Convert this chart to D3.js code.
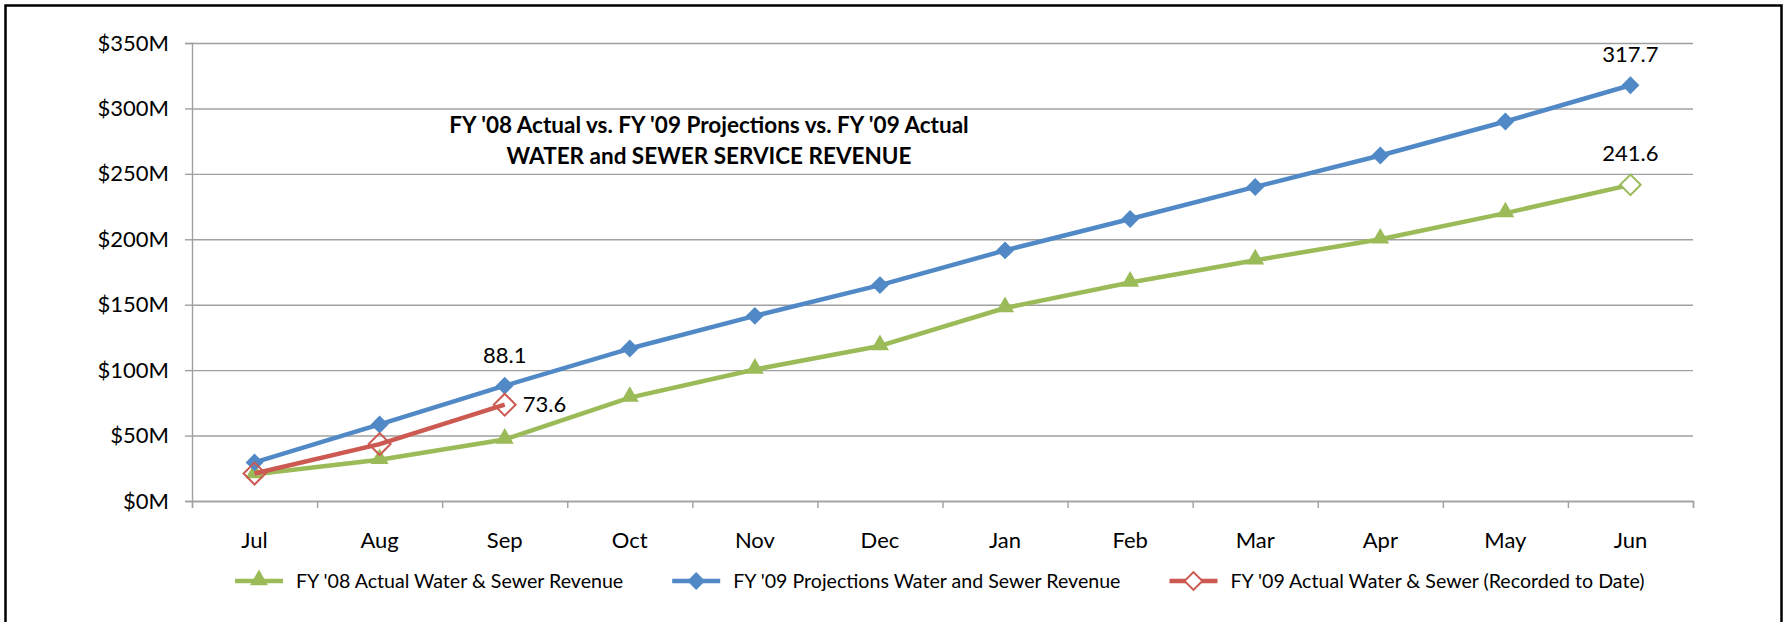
<!DOCTYPE html>
<html>
<head>
<meta charset="utf-8">
<script src="https://cdn.jsdelivr.net/npm/d3@7"></script>
<style>
  body { margin: 0; background: #fff; }
  svg { display: block; font-family: Lato, "Open Sans", sans-serif; }
</style>
</head>
<body>
<svg id="chart"></svg>
<script>
const months = ["Jul", "Aug", "Sep", "Oct", "Nov", "Dec", "Jan", "Feb", "Mar", "Apr", "May", "Jun"];
const fy08Actual = [20.5, 31.5, 47, 79, 100.5, 118.5, 147.5, 167, 184, 200, 220, 241.6];
const fy09Projection = [29.5, 58.5, 88.1, 116.5, 141.5, 165, 191.5, 215.5, 240, 264, 290, 317.7];
const fy09Actual = [21, 43.5, 73.6];
const yTicks = [0, 50, 100, 150, 200, 250, 300, 350];
const titleLines = ["FY '08 Actual vs. FY '09 Projections vs. FY '09 Actual", "WATER and SEWER SERVICE REVENUE"];
const legendNames = ["FY '08 Actual Water & Sewer Revenue", "FY '09 Projections Water and Sewer Revenue", "FY '09 Actual Water & Sewer (Recorded to Date)"];

const width = 1785;
const height = 622;
const margin = { top: 43, right: 92, bottom: 121, left: 192 };
const green = "#9BBB59", blue = "#5089C6", red = "#CC5A52", grid = "#A0A0A0";

const svg = d3.select("#chart").attr("width", width).attr("height", height);

// outer frame (bottom edge is off the picture)
svg.append("rect")
   .attr("x", 5.5).attr("y", 5.5)
   .attr("width", 1776).attr("height", 700)
   .attr("fill", "none").attr("stroke", "#000").attr("stroke-width", 2.5);

const x = d3.scaleBand().domain(months).range([margin.left, width - margin.right]);
const xEdge = d3.scaleLinear().domain([0, months.length]).range([margin.left, width - margin.right]);
const y = d3.scaleLinear().domain([0, 350]).range([height - margin.bottom, margin.top]);
const cx = m => x(m) + x.bandwidth() / 2;

// gridlines
svg.append("g")
   .attr("transform", `translate(${margin.left},0)`)
   .call(d3.axisLeft(y).tickValues(yTicks).tickSize(-(width - margin.right - margin.left)).tickFormat(""))
   .call(g => g.select(".domain").remove())
   .call(g => g.selectAll("line").attr("stroke", grid).attr("stroke-width", 1.4));

// y axis
const yAxis = svg.append("g")
   .attr("transform", `translate(${margin.left},0)`)
   .call(d3.axisLeft(y).tickValues(yTicks).tickSize(7).tickPadding(16).tickFormat(d => `$${d}M`));
yAxis.select(".domain").attr("stroke", grid).attr("stroke-width", 1.4);
yAxis.selectAll("line").attr("stroke", grid).attr("stroke-width", 1.4);
yAxis.selectAll("text").attr("font-size", 22).attr("fill", "#000").style("font-family", "Lato");

// x axis: ticks at category edges, labels at centres
const xAxis = svg.append("g")
   .attr("transform", `translate(0,${y(0)})`)
   .call(d3.axisBottom(xEdge).tickValues(d3.range(months.length + 1)).tickSize(7).tickFormat(""));
xAxis.select(".domain").attr("stroke", grid).attr("stroke-width", 1.4);
xAxis.selectAll("line").attr("stroke", grid).attr("stroke-width", 1.4);

svg.append("g")
   .attr("transform", `translate(0,${y(0)})`)
   .call(d3.axisBottom(x).tickSize(0).tickPadding(31))
   .call(g => g.select(".domain").remove())
   .call(g => g.selectAll("text").attr("font-size", 22).attr("fill", "#000").style("font-family", "Lato"));

// title
svg.selectAll(".title")
   .data(titleLines)
   .enter()
   .append("text")
     .attr("x", 709)
     .attr("y", (d, i) => 125 + i * 31)
     .attr("dy", "0.35em")
     .attr("text-anchor", "middle")
     .attr("font-size", 22.5)
     .attr("font-weight", "bold")
     .text(d => d);

const line = d3.line().x(d => cx(d.m)).y(d => y(d.v));
const toPts = arr => arr.map((v, i) => ({ m: months[i], v }));

// square diamonds (rotated squares, as in the original)
const diamond = d3.symbol().type(d3.symbolSquare);
const triangle = d3.symbol().type(d3.symbolTriangle);

function drawLine(data, color) {
  svg.append("path")
     .datum(data)
     .attr("fill", "none")
     .attr("stroke", color)
     .attr("stroke-width", 4.5)
     .attr("stroke-linejoin", "round")
     .attr("d", line);
}

// FY08 actual
const g08 = toPts(fy08Actual);
drawLine(g08, green);
svg.selectAll(".tri")
   .data(g08.slice(0, -1))
   .enter()
   .append("path")
     .attr("transform", d => `translate(${cx(d.m)},${y(d.v) - 1})`)
     .attr("d", triangle.size(140))
     .attr("fill", green);
svg.append("path")
   .attr("transform", `translate(${cx(g08[11].m)},${y(g08[11].v)}) rotate(45)`)
   .attr("d", diamond.size(210))
   .attr("fill", "#fff").attr("stroke", green).attr("stroke-width", 2);

// FY09 projection
const g09p = toPts(fy09Projection);
drawLine(g09p, blue);
svg.selectAll(".dia")
   .data(g09p)
   .enter()
   .append("path")
     .attr("transform", d => `translate(${cx(d.m)},${y(d.v)}) rotate(45)`)
     .attr("d", diamond.size(160))
     .attr("fill", blue);

// FY09 actual
const g09a = toPts(fy09Actual);
drawLine(g09a, red);
svg.selectAll(".rdia")
   .data(g09a)
   .enter()
   .append("path")
     .attr("transform", d => `translate(${cx(d.m)},${y(d.v)}) rotate(45)`)
     .attr("d", diamond.size(240))
     .attr("fill", "none").attr("stroke", red).attr("stroke-width", 2);

// data labels
const labels = [
  { m: "Jun", v: fy09Projection[11], dx: 0, dy: -31, anchor: "middle" },
  { m: "Jun", v: fy08Actual[11], dx: 0, dy: -32, anchor: "middle" },
  { m: "Sep", v: fy09Projection[2], dx: 0, dy: -30, anchor: "middle" },
  { m: "Sep", v: fy09Actual[2], dx: 18, dy: 0, anchor: "start" }
];
svg.selectAll(".dlabel")
   .data(labels)
   .enter()
   .append("text")
     .attr("x", d => cx(d.m) + d.dx)
     .attr("y", d => y(d.v) + d.dy)
     .attr("dy", "0.35em")
     .attr("text-anchor", d => d.anchor)
     .attr("font-size", 22)
     .text(d => d.v.toFixed(1));

// legend
const legendColors = [green, blue, red];
let lx = 235;
const ly = 581;
legendNames.forEach((name, i) => {
  const c = legendColors[i];
  svg.append("line")
     .attr("x1", lx).attr("x2", lx + 48).attr("y1", ly).attr("y2", ly)
     .attr("stroke", c).attr("stroke-width", 4.5);
  const mk = svg.append("path");
  if (i === 0) mk.attr("transform", `translate(${lx + 24},${ly - 1})`).attr("d", triangle.size(140)).attr("fill", c);
  if (i === 1) mk.attr("transform", `translate(${lx + 24},${ly}) rotate(45)`).attr("d", diamond.size(160)).attr("fill", c);
  if (i === 2) mk.attr("transform", `translate(${lx + 24},${ly}) rotate(45)`).attr("d", diamond.size(160)).attr("fill", "#fff").attr("stroke", c).attr("stroke-width", 2);
  const t = svg.append("text")
     .attr("x", lx + 61).attr("y", ly).attr("dy", "0.35em")
     .attr("font-size", 19.6)
     .text(name);
  lx += 61 + t.node().getComputedTextLength() + 49;
});
</script>
</body>
</html>
